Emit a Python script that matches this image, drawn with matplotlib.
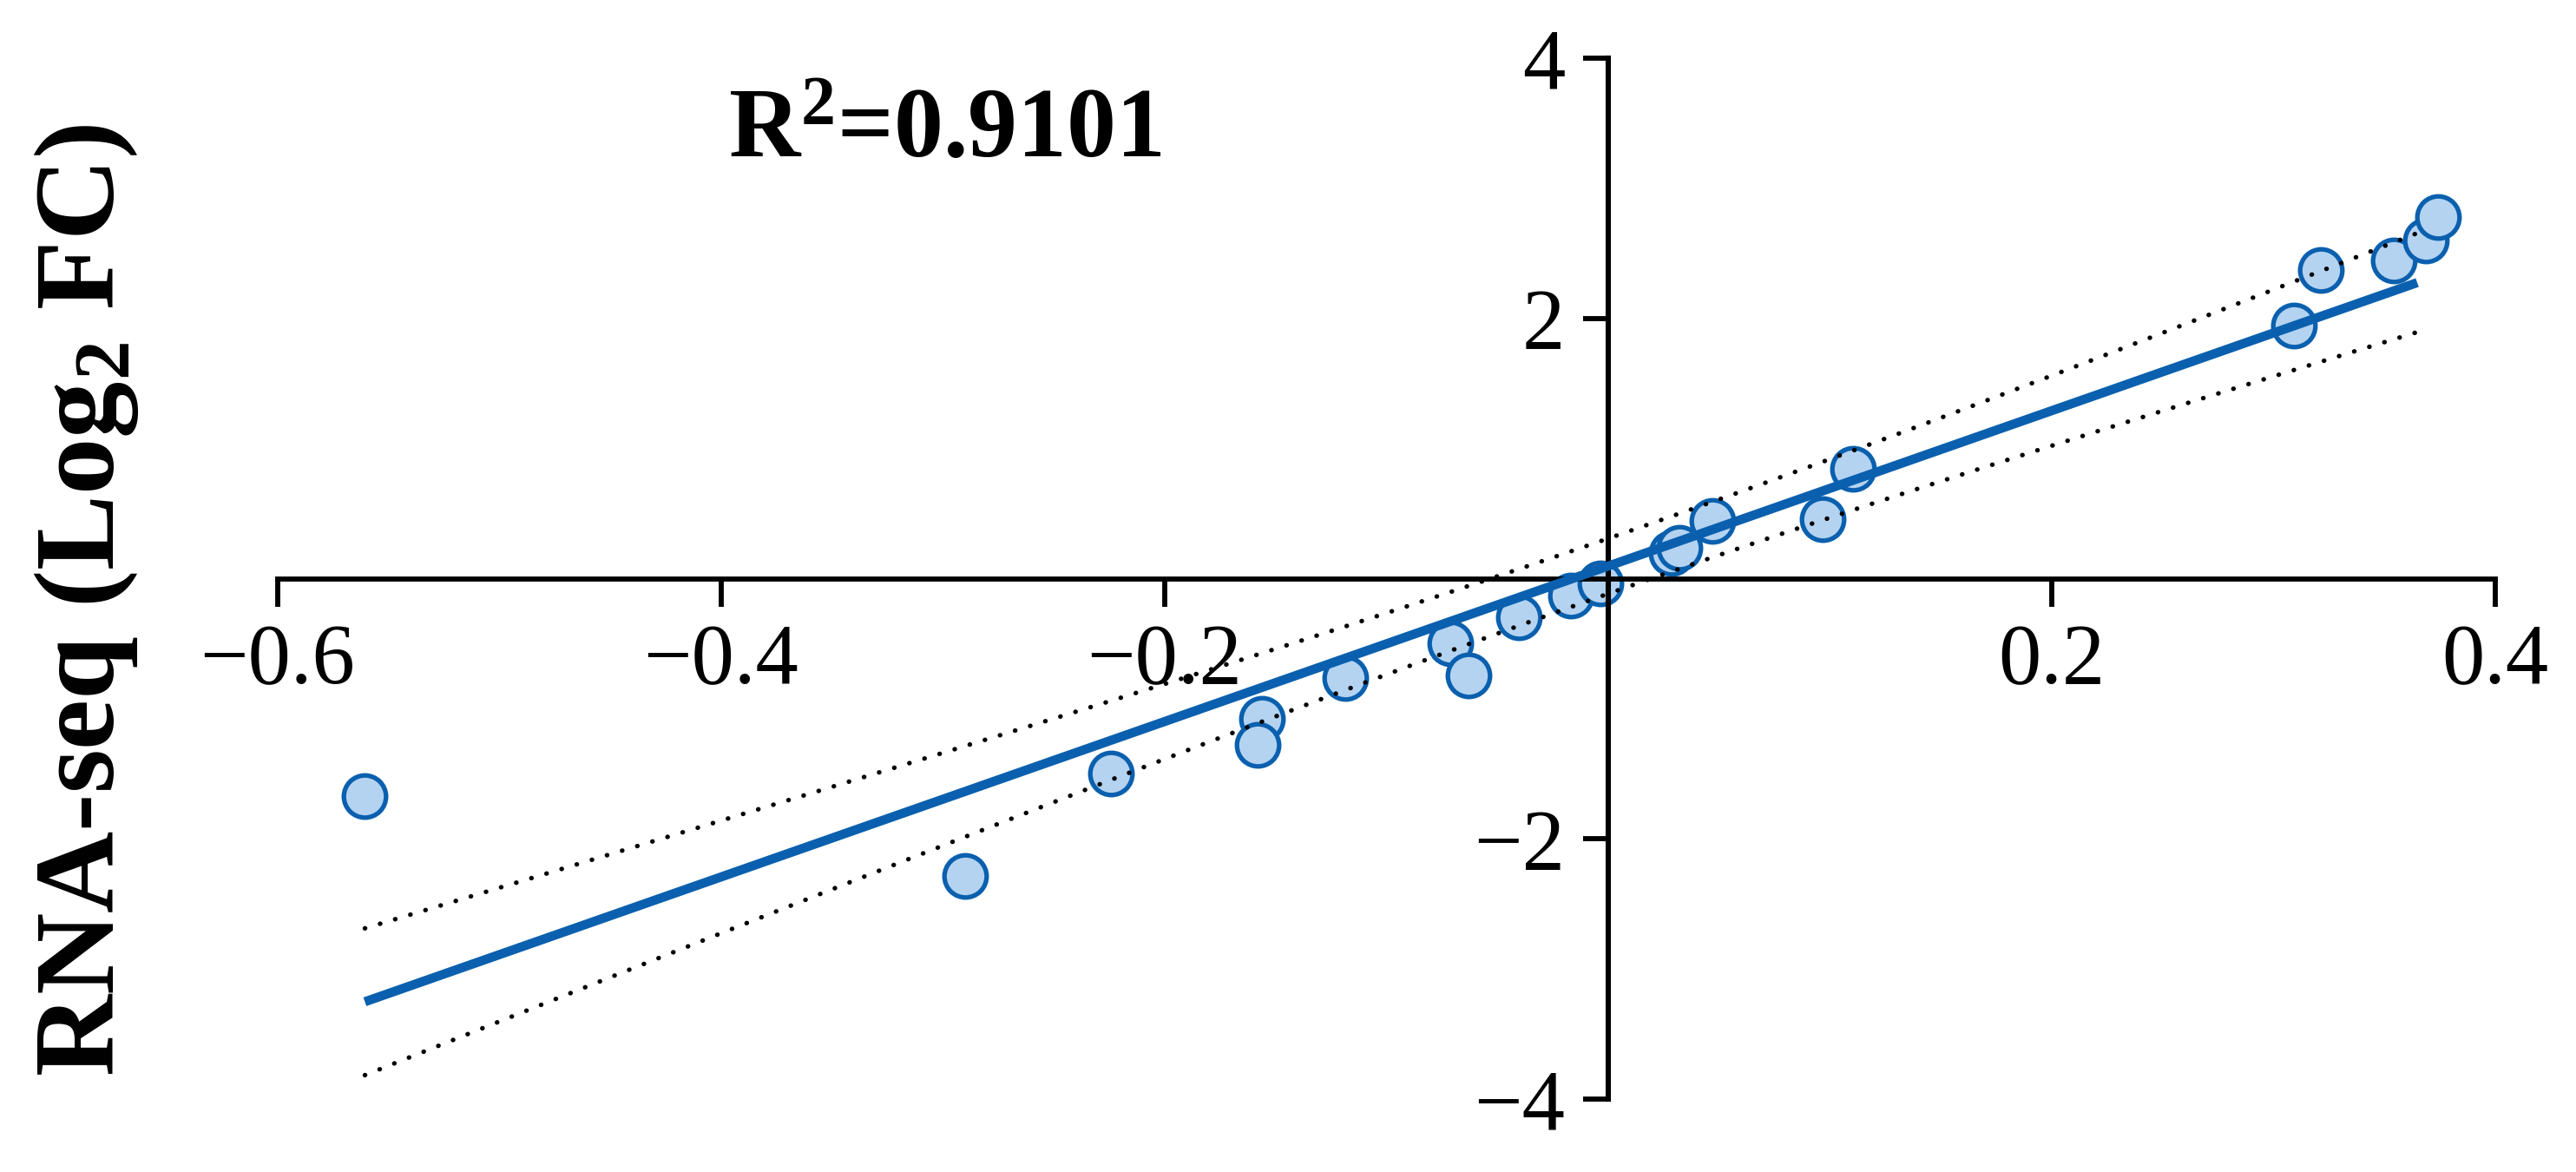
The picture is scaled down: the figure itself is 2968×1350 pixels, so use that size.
import numpy as np
import matplotlib
matplotlib.use("Agg")
import matplotlib.pyplot as plt

# ---- data ----
x_vals = [-0.5607, -0.2900, -0.2244, -0.1562, -0.1583, -0.1184, -0.0713, -0.0631,
          -0.0405, -0.0168, -0.0035, 0.0285, 0.0320, 0.0471, 0.0968, 0.1104,
          0.3091, 0.3213, 0.3543, 0.3687, 0.3743]
y_vals = [-1.673, -2.287, -1.498, -1.075, -1.276, -0.764, -0.495, -0.742,
          -0.297, -0.131, -0.038, 0.195, 0.235, 0.447, 0.460, 0.845,
          1.947, 2.369, 2.447, 2.602, 2.780]
fit_x_range = (-0.5607, 0.3648)
t_crit = 2.093  # 95% two-sided, df = n - 2 = 19
r2_text = r"R$^{\mathbf{2}}$=0.9101"
y_label = r"RNA-seq (Log$_{\mathbf{2}}$ FC)"
x_ticks = [-0.6, -0.4, -0.2, 0.2, 0.4]
x_tick_labels = ["\u22120.6", "\u22120.4", "\u22120.2", "0.2", "0.4"]
y_ticks = [-4, -2, 2, 4]
y_tick_labels = ["\u22124", "\u22122", "2", "4"]

plt.rcParams['font.family'] = ['Liberation Serif', 'DejaVu Serif']
plt.rcParams['mathtext.fontset'] = 'custom'
plt.rcParams['mathtext.rm'] = 'Liberation Serif'
plt.rcParams['mathtext.bf'] = 'Liberation Serif:bold'
plt.rcParams['mathtext.it'] = 'Liberation Serif:italic'

x = np.array(x_vals)
y = np.array(y_vals)
n = len(x)
slope, intercept = np.polyfit(x, y, 1)
resid = y - (slope * x + intercept)
s = np.sqrt(np.sum(resid ** 2) / (n - 2))
xm = x.mean()
sxx = np.sum((x - xm) ** 2)
xf = np.linspace(fit_x_range[0], fit_x_range[1], 200)
yf = slope * xf + intercept
hw = t_crit * s * np.sqrt(1.0 / n + (xf - xm) ** 2 / sxx)

fig = plt.figure(figsize=(29.68, 13.5), dpi=100)
ax = fig.add_axes([320 / 2968, 1 - 1266 / 1350, (2875 - 320) / 2968, (1266 - 67) / 1350])

line_blue = '#0a60ae'
fill_blue = '#b4d3f1'

ax.plot(x, y, 'o', ms=35, mfc=fill_blue, mec=line_blue, mew=3.8, zorder=2, clip_on=False)
ax.plot(xf, yf + hw, color='black', lw=3.8, linestyle=(0, (0.05, 3.4)),
        dash_capstyle='round', zorder=3)
ax.plot(xf, yf - hw, color='black', lw=3.8, linestyle=(0, (0.05, 3.4)),
        dash_capstyle='round', zorder=3)
ax.plot(xf, yf, color=line_blue, lw=7.6, zorder=4, solid_capstyle='butt')

ax.set_xlim(-0.6, 0.4)
ax.set_ylim(-4, 4)
for side in ['top', 'right']:
    ax.spines[side].set_visible(False)
ax.spines['left'].set_position(('data', 0))
ax.spines['bottom'].set_position(('data', 0))
ax.spines['left'].set_linewidth(4.4)
ax.spines['bottom'].set_linewidth(4.2)

ax.set_xticks(x_ticks)
ax.set_xticklabels(x_tick_labels)
ax.set_yticks(y_ticks)
ax.set_yticklabels(y_tick_labels)
ax.tick_params(axis='x', direction='out', length=23, width=4.2, labelsize=71, pad=14)
ax.tick_params(axis='y', direction='out', length=21, width=4.2, labelsize=71, pad=15)

fig.text(839 / 2968, 1 - 181 / 1350, r2_text, fontsize=82, fontweight='bold',
         ha='left', va='baseline')
fig.text(100 / 2968, 1 - 691 / 1350, y_label, fontsize=94, fontweight='bold',
         rotation=90, ha='center', va='center')

fig.savefig('out.png', dpi=100)
